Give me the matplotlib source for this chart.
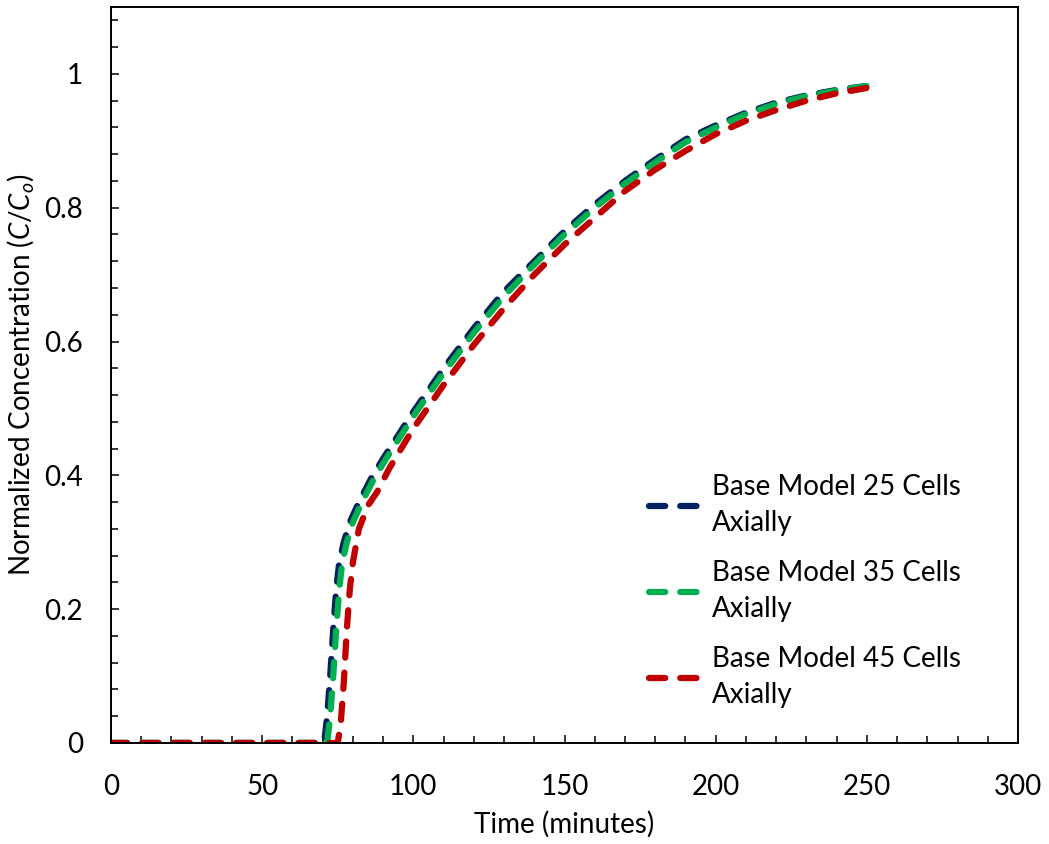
import matplotlib
matplotlib.use("Agg")
import matplotlib.pyplot as plt
from matplotlib.ticker import MultipleLocator, FuncFormatter

# breakthrough curves
t_25 = [0, 70.5, 71.5, 72.5, 73.5, 74.5, 75.5, 77, 79, 82, 86, 90, 95, 100, 110, 120,
        130, 140, 150, 160, 170, 180, 190, 200, 210, 220, 230, 240, 250]
c_25 = [0, 0, 0.04, 0.10, 0.17, 0.23, 0.27, 0.30, 0.33, 0.36, 0.395, 0.425, 0.46, 0.495,
        0.56, 0.62, 0.675, 0.72, 0.765, 0.805, 0.84, 0.872, 0.902, 0.923, 0.942, 0.957,
        0.968, 0.976, 0.982]

t_35 = [0, 71.5, 72.5, 73.5, 74.5, 75.5, 76.5, 78, 80, 83, 87, 91, 96, 101, 110, 120,
        130, 140, 150, 160, 170, 180, 190, 200, 210, 220, 230, 240, 250]
c_35 = [0, 0, 0.04, 0.10, 0.17, 0.23, 0.27, 0.30, 0.33, 0.36, 0.395, 0.425, 0.46, 0.495,
        0.553, 0.613, 0.668, 0.715, 0.76, 0.80, 0.836, 0.868, 0.898, 0.92, 0.94, 0.955,
        0.967, 0.975, 0.982]

t_45 = [0, 75, 76, 77, 78, 79, 80, 82, 85, 88, 92, 96, 100, 110, 120, 130, 140, 150,
        160, 170, 180, 190, 200, 210, 220, 230, 240, 250]
c_45 = [0, 0, 0.03, 0.09, 0.17, 0.23, 0.27, 0.32, 0.355, 0.375, 0.41, 0.44, 0.47, 0.535,
        0.595, 0.65, 0.70, 0.745, 0.785, 0.825, 0.857, 0.885, 0.91, 0.93, 0.946, 0.96,
        0.971, 0.979]

labels = ["Base Model 25 Cells\nAxially",
          "Base Model 35 Cells\nAxially",
          "Base Model 45 Cells\nAxially"]
colors = ["#002060", "#00B050", "#C00000"]

plt.rcParams["font.family"] = ["Lato", "DejaVu Sans"]
plt.rcParams["mathtext.fontset"] = "custom"
plt.rcParams["mathtext.rm"] = "Lato"
plt.rcParams["mathtext.it"] = "Lato:italic"

fig = plt.figure(figsize=(10.49, 8.44), dpi=100)
ax = fig.add_axes([0.1058, 0.1197, 0.8647, 0.872])

for t, c, lab, col in zip([t_25, t_35, t_45], [c_25, c_35, c_45], labels, colors):
    ax.plot(t, c, color=col, lw=4.5, dashes=(2.6, 2.4), dash_capstyle="round",
            solid_capstyle="round", label=lab)

ax.set_xlim(0, 300)
ax.set_ylim(0, 1.1)
ax.xaxis.set_major_locator(MultipleLocator(50))
ax.xaxis.set_minor_locator(MultipleLocator(10))
ax.yaxis.set_minor_locator(MultipleLocator(0.04))
ax.set_yticks([0, 0.2, 0.4, 0.6, 0.8, 1.0])
ax.yaxis.set_major_formatter(FuncFormatter(lambda v, p: "%g" % round(v, 2)))

ax.tick_params(which="both", direction="in", labelsize=20, width=1.1,
               top=False, right=False)
ax.tick_params(which="major", length=6)
ax.tick_params(which="minor", length=5)
ax.tick_params(axis="x", which="major", pad=22)
ax.tick_params(axis="y", which="major", pad=20)
for s in ax.spines.values():
    s.set_linewidth(1.4)

ax.set_xlabel("Time (minutes)", fontsize=20, labelpad=8)
ax.set_ylabel(r"Normalized Concentration ($\mathit{C/C_o}$)", fontsize=20, labelpad=6)

leg = ax.legend(loc="upper left", bbox_to_anchor=(0.578, 0.385), frameon=False,
                fontsize=20, handlelength=2.0, handletextpad=0.25, labelspacing=0.85,
                borderpad=0)
for txt in leg.get_texts():
    txt.set_linespacing(1.5)

fig.savefig("out.png", dpi=100)
